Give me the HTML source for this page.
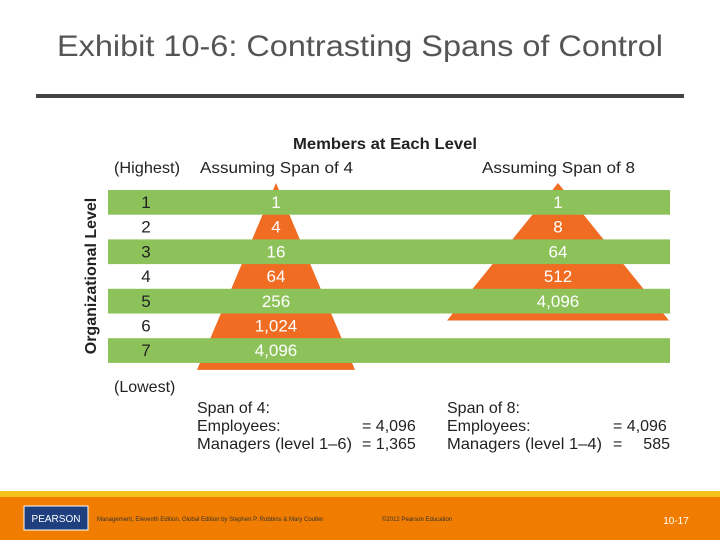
<!DOCTYPE html>
<html><head><meta charset="utf-8"><style>
body{margin:0;width:720px;height:540px;overflow:hidden;background:#fff;font-family:"Liberation Sans",sans-serif}
</style></head><body>
<svg width="720" height="540" viewBox="0 0 720 540">
<text x="57" y="56" textLength="606" lengthAdjust="spacingAndGlyphs" font-size="30" fill="#555">Exhibit 10-6: Contrasting Spans of Control</text>
<rect x="36" y="94" width="648" height="4" fill="#444"/>
<g id="chart"></g>
<text x="293" y="149" textLength="184" lengthAdjust="spacingAndGlyphs" font-size="16" font-weight="bold" fill="#222">Members at Each Level</text>
<text x="114" y="173" textLength="66" lengthAdjust="spacingAndGlyphs" font-size="16" fill="#222">(Highest)</text>
<text x="200" y="173" textLength="153" lengthAdjust="spacingAndGlyphs" font-size="16" fill="#222">Assuming Span of 4</text>
<text x="482" y="173" textLength="153" lengthAdjust="spacingAndGlyphs" font-size="16" fill="#222">Assuming Span of 8</text>
<text x="114" y="392" font-size="16" fill="#222">(Lowest)</text>
<text transform="translate(96,276) rotate(-90)" text-anchor="middle" font-size="16" font-weight="bold" fill="#222">Organizational Level</text>
<g font-size="16" fill="#222">
<text x="197" y="413">Span of 4:</text>
<text x="197" y="431">Employees:</text><text x="362" y="431">= 4,096</text>
<text x="197" y="449" textLength="155" lengthAdjust="spacingAndGlyphs">Managers (level 1–6)</text><text x="362" y="449">= 1,365</text>
</g>
<g font-size="16" fill="#222">
<text x="447" y="413">Span of 8:</text>
<text x="447" y="431">Employees:</text><text x="613" y="431">= 4,096</text>
<text x="447" y="449" textLength="155" lengthAdjust="spacingAndGlyphs">Managers (level 1–4)</text><text x="613" y="449">=</text><text x="670" y="449" text-anchor="end">585</text>
</g>
<rect x="0" y="491" width="720" height="6" fill="#f5c21b"/>
<rect x="0" y="497" width="720" height="43" fill="#f07d00"/>
<rect x="24" y="506" width="64" height="24" fill="#1f3f7f" stroke="#fff" stroke-width="1"/>
<text x="56" y="522" text-anchor="middle" font-size="10" fill="#fff">PEARSON</text>
<text x="97" y="521" font-size="6" fill="#333">Management, Eleventh Edition, Global Edition by Stephen P. Robbins &amp; Mary Coulter</text>
<text x="382" y="521" font-size="6" fill="#333">©2012 Pearson Education</text>
<text x="676" y="524" text-anchor="middle" font-size="10" fill="#fff">10-17</text>
</svg>
<script>
const levels=[1,2,3,4,5,6,7];
const span4=["1","4","16","64","256","1,024","4,096"];
const span8=["1","8","64","512","4,096"];
const NS="http://www.w3.org/2000/svg";
const g=document.getElementById('chart');
const rowTop=190,rowH=24.7;
const y=i=>rowTop+i*rowH;
function mk(t,a){const e=document.createElementNS(NS,t);for(const k in a)e.setAttribute(k,a[k]);g.appendChild(e);return e;}
function tri(cx,n,halfBase,name){
  const apex=183,base=y(n)+7;
  const p=mk('polygon',{points:`${cx},${apex} ${cx-halfBase},${base} ${cx+halfBase},${base}`,fill:'#ef6c22'});
  
  
}
tri(276,span4.length,79,'span4-pyramid');
tri(558,span8.length,111,'span8-pyramid');
levels.forEach((l,i)=>{
  if(i%2===0){const r=mk('rect',{x:108,y:y(i),width:562,height:rowH,fill:'#8dc25a'});
    
    }
  const t=mk('text',{x:146,y:y(i)+18,'text-anchor':'middle','font-size':17,fill:'#222'});t.textContent=l;
  
  
});
span4.forEach((v,i)=>{const t=mk('text',{x:276,y:y(i)+18,'text-anchor':'middle','font-size':17,fill:'#fff'});t.textContent=v;
  
  });
span8.forEach((v,i)=>{const t=mk('text',{x:558,y:y(i)+18,'text-anchor':'middle','font-size':17,fill:'#fff'});t.textContent=v;
  
  });
</script>
</body></html>
